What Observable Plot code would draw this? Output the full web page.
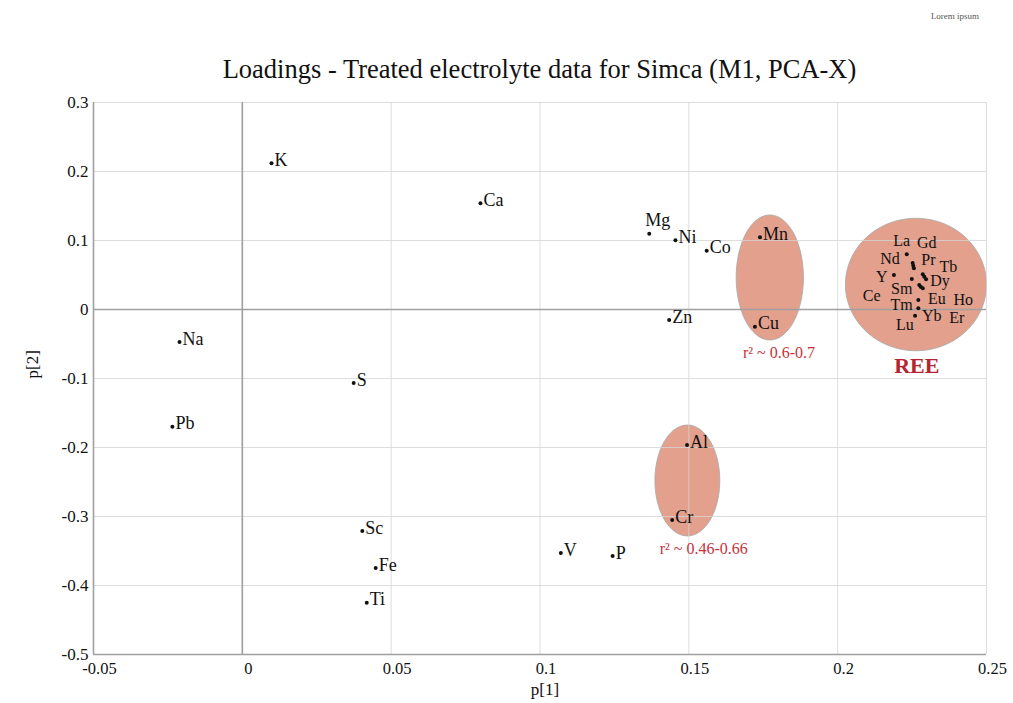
<!DOCTYPE html>
<html><head><meta charset="utf-8">
<script src="https://cdn.jsdelivr.net/npm/d3@7"></script>
<script src="https://cdn.jsdelivr.net/npm/@observablehq/plot@0.6"></script>
<style>
body{margin:0;background:#fff;}
#wrap{position:relative;width:1013px;height:703px;font-family:'Liberation Serif','Times New Roman',serif;}
#title{position:absolute;left:0;width:1079px;top:56px;line-height:27px;text-align:center;font-size:26.5px;color:#111;white-space:nowrap;font-family:'Liberation Serif','Times New Roman',serif;}
#lorem{position:absolute;left:920px;width:70px;top:11px;text-align:center;font-size:9px;color:#555;font-family:'Liberation Serif','Times New Roman',serif;}
#chart{position:absolute;left:0;top:0;}
</style></head>
<body>
<div id="wrap">
<div id="chart"></div>
<div id="title">Loadings - Treated electrolyte data for Simca (M1, PCA-X)</div>
<div id="lorem">Lorem ipsum</div>
</div>
<script>
// ---- data ----
const elements = ["K","Ca","Mg","Ni","Co","Mn","Cu","Zn","Na","S","Pb","Al","Cr","Sc","V","P","Fe","Ti"];
const p1 = [0.0098,0.0800,0.1367,0.1455,0.1560,0.1739,0.1722,0.1434,-0.0211,0.0374,-0.0235,0.1494,0.1444,0.0403,0.1070,0.1244,0.0448,0.0418];
const p2 = [0.2119,0.1539,0.1099,0.1003,0.0852,0.1046,-0.0249,-0.0152,-0.0471,-0.1065,-0.1699,-0.1964,-0.3051,-0.3210,-0.3529,-0.3572,-0.3746,-0.4249];

const reeElements = ["La","Gd","Pr","Nd","Tb","Dy","Ho","Y","Sm","Er","Eu","Ce","Tm","Yb","Lu"];
const reeP1 = [0.2232,0.2252,0.2254,0.2256,0.2286,0.2291,0.2297,0.2189,0.2249,0.2274,0.2279,0.2286,0.2271,0.2271,0.2260];
const reeP2 = [0.0800,0.0674,0.0635,0.0597,0.0510,0.0475,0.0438,0.0500,0.0442,0.0355,0.0330,0.0307,0.0138,0.0017,-0.0090];
// manually placed label anchors (data units) inside the REE circle
const reeLabelP1 = [0.2215,0.2299,0.2305,0.2176,0.2372,0.2344,0.2422,0.2148,0.2215,0.2400,0.2333,0.2114,0.2215,0.2316,0.2226];
const reeLabelP2 = [0.0997,0.0965,0.0718,0.0728,0.0625,0.0415,0.0138,0.0476,0.0303,-0.0127,0.0148,0.0196,0.0065,-0.0094,-0.0224];

const groupNames = ["Mn-Cu","Al-Cr","REE"];
const groupCx = [0.1772,0.1495,0.2263];
const groupCy = [0.0464,-0.2478,0.0362];
const groupRx = [0.0113,0.0109,0.0237];
const groupRy = [0.0906,0.0804,0.0960];

const noteText = ["r\u00B2 ~ 0.6-0.7","r\u00B2 ~ 0.46-0.66"];
const noteP1 = [0.1803,0.1550];
const noteP2 = [-0.0630,-0.3471];
const reeTitle = "REE", reeTitleP1 = 0.2266, reeTitleP2 = -0.0817;

const xTicks = [-0.05,0,0.05,0.1,0.15,0.2,0.25];
const yTicks = [0.3,0.2,0.1,0,-0.1,-0.2,-0.3,-0.4,-0.5];

// ---- build tables ----
const pts = elements.map((e,i)=>({name:e,x:p1[i],y:p2[i]}));
const reePts = reeElements.map((e,i)=>({name:e,x:reeP1[i],y:reeP2[i],lx:reeLabelP1[i],ly:reeLabelP2[i]}));
const ellipsePts = [];
groupNames.forEach((g,k)=>{
  for(let j=0;j<90;j++){
    const t = j/90*2*Math.PI;
    ellipsePts.push({id:g,x:groupCx[k]+groupRx[k]*Math.cos(t),y:groupCy[k]+groupRy[k]*Math.sin(t)});
  }
});
const notes = noteText.map((t,i)=>({t,x:noteP1[i],y:noteP2[i]}));
const fmt = d => String(Math.round(d*1000)/1000);
const serif = "'Liberation Serif', 'Times New Roman', serif";

const plot = Plot.plot({
  width:1013, height:703,
  marginLeft:93, marginRight:27, marginTop:102, marginBottom:49,
  x:{domain:[-0.05,0.25]},
  y:{domain:[-0.5,0.3]},
  style:{fontFamily:serif, fontSize:"17px", color:"#111", background:"transparent", overflow:"visible"},
  marks:[
    Plot.line(ellipsePts,{x:"x",y:"y",z:"id",fill:"#e2a08d",stroke:"#a8a8a8",strokeWidth:0.8,curve:"linear-closed"}),
    Plot.gridX(xTicks,{stroke:"#d4d4d4",strokeOpacity:0.8,strokeWidth:1}),
    Plot.gridY(yTicks,{stroke:"#d4d4d4",strokeOpacity:0.8,strokeWidth:1}),
    Plot.ruleX([0],{stroke:"#a0a0a0",strokeWidth:1.6}),
    Plot.ruleY([0],{stroke:"#a0a0a0",strokeWidth:1.6}),
    Plot.ruleX([-0.05],{stroke:"#a0a0a0",strokeWidth:1.6}),
    Plot.ruleY([-0.5],{stroke:"#a0a0a0",strokeWidth:1.6}),
    Plot.axisX(xTicks,{tickSize:0,tickPadding:8,dx:6,tickFormat:fmt,label:null,fontSize:16.5,fontFamily:serif}),
    Plot.axisY(yTicks,{tickSize:0,tickPadding:5,tickFormat:fmt,label:null,fontSize:17,fontFamily:serif}),
    Plot.text(["p[1]"],{frameAnchor:"bottom",dy:40,dx:5,fontSize:17,fontFamily:serif}),
    Plot.text(["p[2]"],{frameAnchor:"left",dx:-61,rotate:-90,fontSize:17,fontFamily:serif}),
    Plot.dot(pts,{x:"x",y:"y",r:2,fill:"#111",stroke:null}),
    Plot.dot(reePts,{x:"x",y:"y",r:2,fill:"#111",stroke:null}),
    Plot.text(pts.filter(d=>d.name!=="Mg"),{x:"x",y:"y",text:"name",textAnchor:"start",dx:3,dy:-3,fontSize:18,fill:"#111",fontFamily:serif}),
    Plot.text(pts.filter(d=>d.name==="Mg"),{x:"x",y:"y",text:"name",textAnchor:"start",dx:-4,dy:-13,fontSize:18,fill:"#111",fontFamily:serif}),
    Plot.text(reePts,{x:"lx",y:"ly",text:"name",textAnchor:"middle",fontSize:16,fill:"#111",fontFamily:serif}),
    Plot.text(notes,{x:"x",y:"y",text:"t",textAnchor:"middle",fontSize:16,fill:"#c8323a",fontFamily:serif}),
    Plot.text([reeTitle],{x:()=>reeTitleP1,y:()=>reeTitleP2,text:d=>d,textAnchor:"middle",fontSize:22,fontWeight:"bold",fill:"#b5232f",fontFamily:serif})
  ]
});
document.getElementById("chart").appendChild(plot);
</script>
</body></html>
